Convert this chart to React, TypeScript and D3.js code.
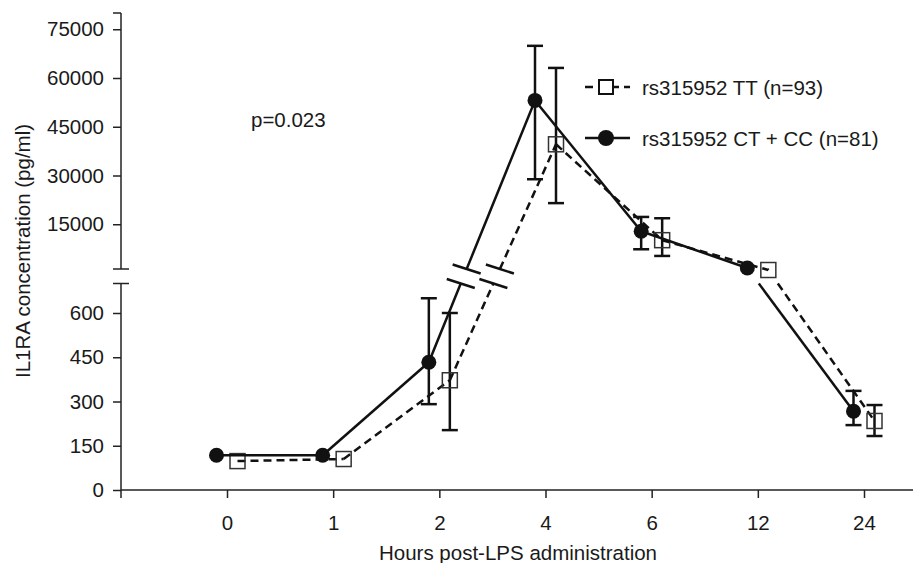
import React, { useEffect, useRef } from "react";
import * as d3 from "d3";

// time points (categories on x)
const hours = ["0", "1", "2", "4", "6", "12", "24"];

// rs315952 TT (n=93) - open squares, dashed
const ttMean = [98, 105, 372, 39600, 10100, 920, 234];
const ttLow = [null, null, 203, 21500, 5250, null, 183];
const ttHigh = [null, null, 600, 63100, 16850, null, 288];

// rs315952 CT + CC (n=81) - filled circles, solid
const ctMean = [118, 118, 433, 53100, 12850, 1540, 267];
const ctLow = [null, null, 291, 28850, 7300, null, 220];
const ctHigh = [null, null, 650, 69900, 17250, null, 336];

const lowTicks = [0, 150, 300, 450, 600];
const highTicks = [15000, 30000, 45000, 60000, 75000];

const FONT = "'Liberation Sans', Arial, sans-serif";

export default function App() {
  const svgRef = useRef<SVGSVGElement>(null);

  useEffect(() => {
    const width = 915;
    const height = 563;
    const axisX = 121;
    const axisY = 490;
    const gapTop = 269; // bottom end of upper segment
    const lowMax = 700;

    const svg = d3.select(svgRef.current).attr("width", width).attr("height", height);
    svg.selectAll("*").remove();

    const x = d3.scalePoint<string>().domain(hours).range([227, 864]);
    const yLow = d3.scaleLinear().domain([0, lowMax]).range([axisY, 283.5]);
    const yHigh = d3.scaleLinear().domain([0, 80000]).range([273, 13]);
    const gapBottom = yLow(lowMax);
    const yv = (v: number) => (v > lowMax ? yHigh(v) : yLow(v));

    // ---- axes ----
    const axisColor = "#222";
    const fmt = d3.format("d");
    const lowAxis = svg.append("g").attr("transform", `translate(${axisX},0)`)
      .call(d3.axisLeft(yLow).tickValues(lowTicks).tickFormat(fmt).tickSize(8).tickPadding(9).tickSizeOuter(0));
    const highAxis = svg.append("g").attr("transform", `translate(${axisX},0)`)
      .call(d3.axisLeft(yHigh).tickValues(highTicks).tickFormat(fmt).tickSize(8).tickPadding(9).tickSizeOuter(0));
    [lowAxis, highAxis].forEach((g) => {
      g.select(".domain").remove();
      g.selectAll("line").attr("stroke", axisColor).attr("stroke-width", 1.5);
      g.selectAll("text").attr("font-family", FONT).attr("font-size", 20.5).attr("fill", "#1a1a1a");
    });

    const dom = svg.append("g").attr("stroke", axisColor).attr("stroke-width", 1.5);
    dom.append("line").attr("x1", axisX).attr("x2", axisX).attr("y1", yHigh(80000)).attr("y2", gapTop);
    dom.append("line").attr("x1", axisX - 8).attr("x2", axisX).attr("y1", yHigh(80000)).attr("y2", yHigh(80000));
    dom.append("line").attr("x1", axisX - 8).attr("x2", axisX + 8).attr("y1", gapTop).attr("y2", gapTop);
    dom.append("line").attr("x1", axisX).attr("x2", axisX).attr("y1", gapBottom).attr("y2", axisY + 8);
    dom.append("line").attr("x1", axisX - 8).attr("x2", axisX + 8).attr("y1", gapBottom).attr("y2", gapBottom);

    const xAxis = svg.append("g").attr("transform", `translate(0,${axisY})`)
      .call(d3.axisBottom(x).tickSize(8).tickPadding(17).tickSizeOuter(0));
    xAxis.select(".domain").remove();
    xAxis.selectAll("line").attr("stroke", axisColor).attr("stroke-width", 1.5);
    xAxis.selectAll("text").attr("font-family", FONT).attr("font-size", 20.5).attr("fill", "#1a1a1a");
    dom.append("line").attr("x1", axisX).attr("x2", 913).attr("y1", axisY).attr("y2", axisY);

    // ---- series ----
    const series = [
      { mean: ttMean, low: ttLow, high: ttHigh, dx: 10.5, dash: "8,5", marker: "square" },
      { mean: ctMean, low: ctLow, high: ctHigh, dx: -10.5, dash: null, marker: "circle" },
    ];
    const line = d3.line<[number, number]>();

    series.forEach((s) => {
      const pts: [number, number][] = s.mean.map((v, i) => [(x(hours[i]) as number) + s.dx, yv(v)]);
      const g = svg.append("g");
      const drawSeg = (a: [number, number], b: [number, number]) => {
        g.append("path").attr("d", line([a, b]))
          .attr("fill", "none").attr("stroke", "#111").attr("stroke-width", 2.5)
          .attr("stroke-dasharray", s.dash);
      };
      const at = (a: [number, number], b: [number, number], yy: number): [number, number] =>
        [a[0] + ((yy - a[1]) / (b[1] - a[1])) * (b[0] - a[0]), yy];

      for (let i = 0; i < pts.length - 1; i++) {
        const a = pts[i], b = pts[i + 1];
        const aUp = s.mean[i] > lowMax, bUp = s.mean[i + 1] > lowMax;
        if (aUp === bUp) { drawSeg(a, b); continue; }
        const pTop = at(a, b, gapTop);
        const pBot = at(a, b, gapBottom);
        if (aUp) { drawSeg(a, pTop); drawSeg(pBot, b); }
        else {
          drawSeg(a, pBot); drawSeg(pTop, b);
          // break marks where the line rises across the axis break
          [pTop, pBot].forEach((p) => {
            g.append("line")
              .attr("x1", p[0] - 14).attr("y1", p[1] - 4.5)
              .attr("x2", p[0] + 14).attr("y2", p[1] + 4.5)
              .attr("stroke", "#111").attr("stroke-width", 2.5);
          });
        }
      }

      // error bars
      s.mean.forEach((_, i) => {
        const lo = s.low[i], hi = s.high[i];
        if (lo == null || hi == null) return;
        const cx = pts[i][0];
        const eg = g.append("g").attr("stroke", "#111").attr("stroke-width", 2.5);
        eg.append("line").attr("x1", cx).attr("x2", cx).attr("y1", yv(lo)).attr("y2", yv(hi));
        [lo, hi].forEach((v) => {
          eg.append("line").attr("x1", cx - 8).attr("x2", cx + 8).attr("y1", yv(v)).attr("y2", yv(v));
        });
      });

      // markers
      pts.forEach((p) => {
        if (s.marker === "circle") {
          g.append("circle").attr("cx", p[0]).attr("cy", p[1]).attr("r", 7.5).attr("fill", "#111");
        } else {
          g.append("rect").attr("x", p[0] - 7.5).attr("y", p[1] - 7.5).attr("width", 15).attr("height", 15)
            .attr("fill", "none").attr("stroke", "#333").attr("stroke-width", 1.5);
        }
      });
    });

    // ---- legend ----
    const legend = [
      { label: "rs315952 TT (n=93)", dash: "8,5", marker: "square", y: 87 },
      { label: "rs315952 CT + CC (n=81)", dash: null, marker: "circle", y: 138 },
    ];
    legend.forEach((l) => {
      const g = svg.append("g");
      g.append("line").attr("x1", 585).attr("x2", 630).attr("y1", l.y).attr("y2", l.y)
        .attr("stroke", "#111").attr("stroke-width", 2.5).attr("stroke-dasharray", l.dash);
      if (l.marker === "circle") {
        g.append("circle").attr("cx", 606).attr("cy", l.y).attr("r", 8).attr("fill", "#111");
      } else {
        g.append("rect").attr("x", 599).attr("y", l.y - 7).attr("width", 14).attr("height", 14)
          .attr("fill", "#fff").attr("stroke", "#111").attr("stroke-width", 2);
      }
      g.append("text").attr("x", 642).attr("y", l.y + 7.5).text(l.label)
        .attr("font-family", FONT).attr("font-size", 20.5).attr("fill", "#1a1a1a");
    });

    // ---- labels ----
    svg.append("text").attr("x", 251).attr("y", 127).text("p=0.023")
      .attr("font-family", FONT).attr("font-size", 20.5).attr("fill", "#1a1a1a");

    svg.append("text")
      .attr("transform", "rotate(-90)")
      .attr("x", -251).attr("y", 30)
      .attr("text-anchor", "middle")
      .attr("font-family", FONT).attr("font-size", 20.5).attr("fill", "#1a1a1a")
      .text("IL1RA concentration (pg/ml)");

    svg.append("text")
      .attr("x", 518).attr("y", 560)
      .attr("text-anchor", "middle")
      .attr("font-family", FONT).attr("font-size", 20.5).attr("fill", "#1a1a1a")
      .text("Hours post-LPS administration");
  }, []);

  return (
    <div style={{ position: "absolute", left: 0, top: 0 }}>
      <svg ref={svgRef} style={{ display: "block", background: "#fff" }}></svg>
    </div>
  );
}
